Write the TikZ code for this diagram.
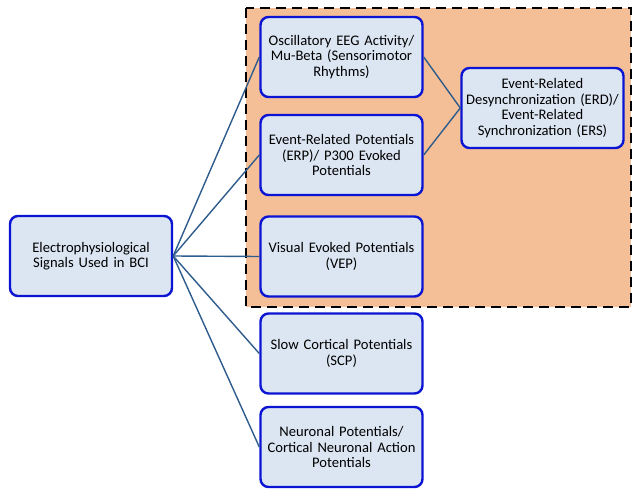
\documentclass[tikz,border=0pt]{standalone}
\usepackage{fontspec}
\setmainfont{Carlito}
\definecolor{boxfill}{HTML}{DCE6F2}
\definecolor{boxline}{HTML}{0A14D2}
\definecolor{linkline}{HTML}{2E5C8C}
\definecolor{groupfill}{HTML}{F4BF97}

\begin{document}
\begin{tikzpicture}[x=1pt, y=-1pt,
  sigbox/.style={draw=boxline, fill=boxfill, line width=2.4pt, rounded corners=8pt,
    minimum width=162pt, minimum height=80pt, text width=158pt, inner sep=1pt, align=center,
    font=\fontsize{14.6}{15.6}\selectfont},
  link/.style={draw=linkline, line width=1.4pt}]
\useasboundingbox (0, 0) rectangle (638, 495);

% group of related signals
\draw [dashed, dash pattern=on 10pt off 6pt, line width=1.6pt, fill=groupfill]
  (246, 8) rectangle (631, 307);

\node [sigbox] (root) at (91, 256) {Electrophysiological\\Signals Used in BCI};
\node [sigbox] (mubeta) at (341.5, 57) {Oscillatory EEG Activity/\\Mu-Beta (Sensorimotor\\Rhythms)};
\node [sigbox] (erp) at (341.5, 155) {Event-Related Potentials\\(ERP)/ P300 Evoked\\Potentials};
\node [sigbox] (vep) at (341.5, 256.5) {Visual Evoked Potentials\\(VEP)};
\node [sigbox] (scp) at (341.5, 353.5) {Slow Cortical Potentials\\(SCP)};
\node [sigbox] (neuro) at (341.5, 447) {Neuronal Potentials/\\Cortical Neuronal Action\\Potentials};
\node [sigbox] (erd) at (542.5, 108) {Event-Related\\Desynchronization (ERD)/\\Event-Related\\Synchronization (ERS)};

%%%%%%%%%%%%%%%%%%%%%%%%%%%%%%%%%%%%%%%%

\foreach \sig in {mubeta, erp, vep, scp, neuro}
  \draw [link] (root.east) -- (\sig.west);
\draw [link] (mubeta.east) -- (erd.west);
\draw [link] (erp.east) -- (erd.west);

\end{tikzpicture}
\end{document}
